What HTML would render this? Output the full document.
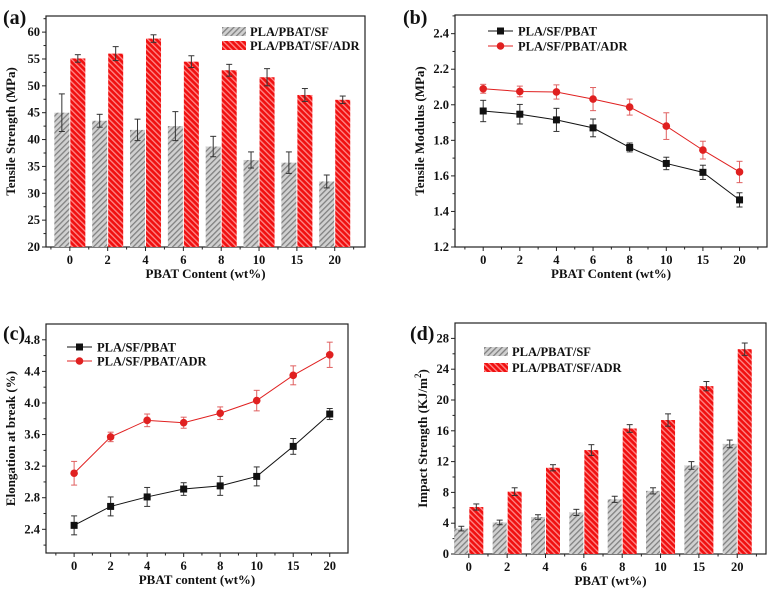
<!DOCTYPE html>
<html><head><meta charset="utf-8"><style>
html,body{margin:0;padding:0;background:#fff}
svg{display:block}
text{font-family:"Liberation Serif",serif;font-weight:bold;fill:#111}
</style></head><body>
<svg id="fig" width="772" height="589" viewBox="0 0 772 589" xmlns="http://www.w3.org/2000/svg">
<defs>
<pattern id="hg" patternUnits="userSpaceOnUse" width="4" height="4" patternTransform="rotate(45)">
<rect width="4" height="4" fill="#d0d0d0"/><rect width="1.3" height="4" fill="#808080"/></pattern>
<pattern id="hr" patternUnits="userSpaceOnUse" width="4" height="4" patternTransform="rotate(-45)">
<rect width="4" height="4" fill="#f01010"/><rect width="1.3" height="4" fill="#ff8a8a"/></pattern>
</defs>
</svg>
<script>
const categories = ["0","2","4","6","8","10","15","20"];
const aGrey = [45,43.5,41.8,42.5,38.7,36.2,35.7,32.2];
const aGreyErr = [3.5,1.2,2,2.7,1.9,1.5,2,1.2];
const aRed = [55.1,56,58.8,54.5,52.9,51.6,48.3,47.4];
const aRedErr = [0.7,1.3,0.7,1.1,1.1,1.6,1.2,0.7];
const aTicks = [20,25,30,35,40,45,50,55,60];
const bBlack = [1.965,1.947,1.915,1.87,1.76,1.67,1.62,1.465];
const bBlackErr = [0.06,0.055,0.065,0.05,0.025,0.035,0.04,0.04];
const bRed = [2.09,2.075,2.072,2.032,1.987,1.88,1.745,1.622];
const bRedErr = [0.025,0.03,0.04,0.065,0.045,0.075,0.05,0.06];
const bTicks = [1.2,1.4,1.6,1.8,2.0,2.2,2.4];
const cBlack = [2.45,2.69,2.81,2.91,2.95,3.07,3.45,3.86];
const cBlackErr = [0.12,0.12,0.12,0.08,0.12,0.12,0.1,0.07];
const cRed = [3.11,3.57,3.78,3.75,3.87,4.03,4.35,4.61];
const cRedErr = [0.15,0.06,0.08,0.07,0.08,0.13,0.12,0.16];
const cTicks = [2.4,2.8,3.2,3.6,4.0,4.4,4.8];
const dGrey = [3.3,4.1,4.8,5.4,7.1,8.2,11.5,14.3];
const dGreyErr = [0.3,0.3,0.3,0.4,0.4,0.4,0.5,0.5];
const dRed = [6.1,8.1,11.2,13.5,16.3,17.4,21.8,26.6];
const dRedErr = [0.4,0.5,0.4,0.7,0.5,0.8,0.6,0.8];
const dTicks = [0,4,8,12,16,20,24,28];

const svg = document.getElementById('fig');
const NS = 'http://www.w3.org/2000/svg';
function mk(tag, attrs, parent){const e=document.createElementNS(NS,tag);for(const k in attrs)e.setAttribute(k,attrs[k]);(parent||svg).appendChild(e);return e;}

function panel(o){
  const g = mk('g',{});
  
  
  const X = i => o.L + (i - o.i0)/(o.i1 - o.i0)*(o.R - o.L);
  const Y = v => o.B - (v - o.y0)/(o.y1 - o.y0)*(o.B - o.T);
  const fr = mk('rect',{x:o.L,y:o.T,width:o.R-o.L,height:o.B-o.T,fill:'none',stroke:'#222','stroke-width':1.2},g);
  
  
  const step = o.yt[1]-o.yt[0];
  o.yt.forEach((v,k)=>{
    mk('line',{x1:o.L-4,x2:o.L,y1:Y(v),y2:Y(v),stroke:'#222'},g);
    if(Y(v-step/2)<o.B) mk('line',{x1:o.L-2.5,x2:o.L,y1:Y(v-step/2),y2:Y(v-step/2),stroke:'#222'},g);
    const t = mk('text',{x:o.L-6,y:Y(v)+4,'text-anchor':'end','font-size':12.5},g);
    t.textContent = o.fmt(v);
    
    
  });
  if(Y(o.yt[o.yt.length-1]+step/2)>o.T) mk('line',{x1:o.L-2.5,x2:o.L,y1:Y(o.yt[o.yt.length-1]+step/2),y2:Y(o.yt[o.yt.length-1]+step/2),stroke:'#222'},g);
  categories.forEach((c,i)=>{
    mk('line',{x1:X(i),x2:X(i),y1:o.B,y2:o.B+4,stroke:'#222'},g);
    const t = mk('text',{x:X(i),y:o.B+17,'text-anchor':'middle','font-size':12.5},g);
    t.textContent = c;
    
    
  });
  for(let h=Math.ceil((o.i0)*2)/2; h<o.i1; h+=0.5){ if(h%1!==0) mk('line',{x1:X(h),x2:X(h),y1:o.B,y2:o.B+2.5,stroke:'#222'},g); }
  const xl = mk('text',{x:(o.L+o.R)/2,y:o.B+31,'text-anchor':'middle','font-size':13},g);
  xl.textContent = o.xlabel;
  
  
  const yl = mk('text',{x:0,y:0,'text-anchor':'middle','font-size':13,transform:`translate(${o.ylx},${(o.T+o.B)/2}) rotate(-90)`},g);
  yl.innerHTML = o.ylabel;
  
  
  const pl = mk('text',{x:o.px,y:o.py,'font-size':20},g);
  pl.textContent = o.tag;
  
  
  return {g,X,Y};
}

function errbar(g,x,y1,y2,color){
  mk('line',{x1:x,x2:x,y1:y1,y2:y2,stroke:color,'stroke-width':1},g);
  mk('line',{x1:x-3,x2:x+3,y1:y1,y2:y1,stroke:color,'stroke-width':1},g);
  mk('line',{x1:x-3,x2:x+3,y1:y2,y2:y2,stroke:color,'stroke-width':1},g);
}

function bars(p,vals,errs,off,w,fill,name){
  vals.forEach((v,i)=>{
    const x = p.X(i)+off;
    const b = mk('rect',{x:x,y:p.Y(v),width:w,height:p.Y(p.base)-p.Y(v),fill:fill},p.g);
    
    
    errbar(p.g,x+w/2,p.Y(v+errs[i]),p.Y(v-errs[i]),'#333');
  });
}

function lines(p,vals,errs,color,marker,name){
  const pts = vals.map((v,i)=>p.X(i)+','+p.Y(v)).join(' ');
  const l = mk('polyline',{points:pts,fill:'none',stroke:color,'stroke-width':1},p.g);
  
  
  vals.forEach((v,i)=>{
    errbar(p.g,p.X(i),p.Y(v+errs[i]),p.Y(v-errs[i]),color==='#e02020'?'#e06060':'#333');
    let m;
    if(marker==='sq') m = mk('rect',{x:p.X(i)-3.5,y:p.Y(v)-3.5,width:7,height:7,fill:color},p.g);
    else m = mk('circle',{cx:p.X(i),cy:p.Y(v),r:3.8,fill:color},p.g);
    
    
  });
}

function legendBar(g,x,y,fill,label){
  const r = mk('rect',{x:x,y:y,width:24,height:9,fill:fill},g);
  
  
  const t = mk('text',{x:x+28,y:y+9,'font-size':12.5},g);
  t.textContent = label;
  
  
}
function legendLine(g,x,y,color,marker,label){
  mk('line',{x1:x,x2:x+25,y1:y,y2:y,stroke:color},g);
  if(marker==='sq') mk('rect',{x:x+9,y:y-3.5,width:7,height:7,fill:color},g);
  else mk('circle',{cx:x+12.5,cy:y,r:3.8,fill:color},g);
  const t = mk('text',{x:x+30,y:y+4.5,'font-size':12.5},g);
  t.textContent = label;
  
  
}

let pa = panel({name:'panel-a-tensile-strength',L:46,R:365,T:16,B:247,i0:-0.63,i1:7.8,y0:20,y1:63,yt:aTicks,fmt:v=>String(v),
  xlabel:'PBAT Content (wt%)',ylabel:'Tensile Strength (MPa)',ylx:15,tag:'(a)',px:3,py:24});
pa.base=20;
bars(pa,aGrey,aGreyErr,-15.5,15,'url(#hg)','grey');
bars(pa,aRed,aRedErr,0.5,15,'url(#hr)','red');
legendBar(pa.g,222,27,'url(#hg)','PLA/PBAT/SF');
legendBar(pa.g,222,41,'url(#hr)','PLA/PBAT/SF/ADR');

let pb = panel({name:'panel-b-tensile-modulus',L:455,R:767,T:15,B:247,i0:-0.77,i1:7.75,y0:1.2,y1:2.505,yt:bTicks,fmt:v=>v.toFixed(1),
  xlabel:'PBAT Content (wt%)',ylabel:'Tensile Modulus (MPa)',ylx:424,tag:'(b)',px:403,py:24});
lines(pb,bBlack,bBlackErr,'#111','sq','black');
lines(pb,bRed,bRedErr,'#e02020','ci','red');
legendLine(pb.g,488,31,'#111','sq','PLA/SF/PBAT');
legendLine(pb.g,488,46,'#e02020','ci','PLA/SF/PBAT/ADR');

let pc = panel({name:'panel-c-elongation',L:46,R:348,T:324,B:553,i0:-0.77,i1:7.5,y0:2.1,y1:5.0,yt:cTicks,fmt:v=>v.toFixed(1),
  xlabel:'PBAT content (wt%)',ylabel:'Elongation at break  (%)',ylx:15,tag:'(c)',px:3,py:340});
lines(pc,cBlack,cBlackErr,'#111','sq','black');
lines(pc,cRed,cRedErr,'#e02020','ci','red');
legendLine(pc.g,67,347,'#111','sq','PLA/SF/PBAT');
legendLine(pc.g,67,361,'#e02020','ci','PLA/SF/PBAT/ADR');

let pd = panel({name:'panel-d-impact-strength',L:455,R:766,T:323,B:554,i0:-0.36,i1:7.75,y0:0,y1:30,yt:dTicks,fmt:v=>String(v),
  xlabel:'PBAT (wt%)',ylabel:'Impact Strength (KJ/m<tspan dy="-6" font-size="9">2</tspan><tspan dy="6">)</tspan>',ylx:427,tag:'(d)',px:410,py:340});
pd.base=0;
bars(pd,dGrey,dGreyErr,-14.5,14,'url(#hg)','grey');
bars(pd,dRed,dRedErr,0.5,14,'url(#hr)','red');
legendBar(pd.g,484,347,'url(#hg)','PLA/PBAT/SF');
legendBar(pd.g,484,363,'url(#hr)','PLA/PBAT/SF/ADR');
</script>
</body></html>
